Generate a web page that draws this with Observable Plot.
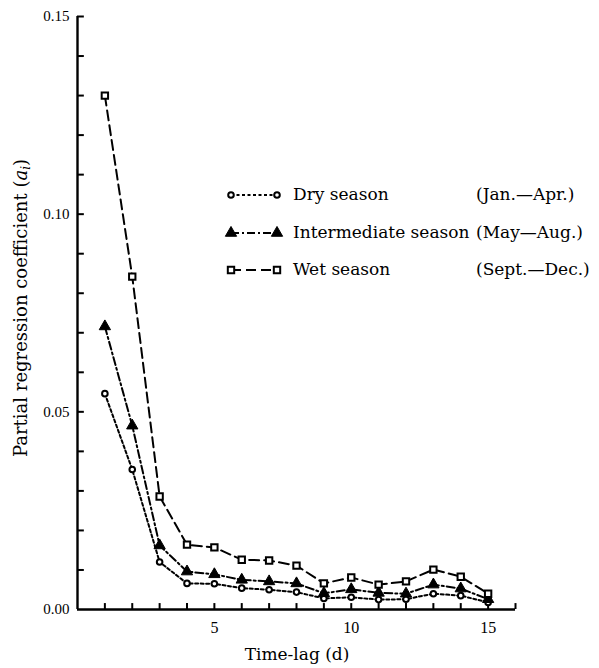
<!DOCTYPE html>
<html>
<head>
<meta charset="utf-8">
<script src="https://cdn.jsdelivr.net/npm/d3@7"></script>
<script src="https://cdn.jsdelivr.net/npm/@observablehq/plot@0.6"></script>
<style>
  body { margin: 0; background: #fff; }
  #chart { width: 599px; height: 668px; }
</style>
</head>
<body>
<div id="chart"></div>
<script>
// ---- data ----
const lags = [1, 2, 3, 4, 5, 6, 7, 8, 9, 10, 11, 12, 13, 14, 15];
const drySeason = [0.0546, 0.0354, 0.0120, 0.0066, 0.0065, 0.0054, 0.0050, 0.0044, 0.0028, 0.0031, 0.0025, 0.0026, 0.0040, 0.0035, 0.0018];
const intermediateSeason = [0.0716, 0.0465, 0.0162, 0.0096, 0.0089, 0.0075, 0.0071, 0.0066, 0.0041, 0.0051, 0.0042, 0.0040, 0.0063, 0.0053, 0.0026];
const wetSeason = [0.1300, 0.0842, 0.0286, 0.0164, 0.0157, 0.0126, 0.0124, 0.0111, 0.0066, 0.0081, 0.0063, 0.0071, 0.0101, 0.0083, 0.0040];
const seriesNames = ["Dry season", "Intermediate season", "Wet season"];
const seriesMonths = ["(Jan.\u2014Apr.)", "(May\u2014Aug.)", "(Sept.\u2014Dec.)"];
const xTicks = [1, 2, 3, 4, 5, 6, 7, 8, 9, 10, 11, 12, 13, 14, 15, 16];
const xTickLabels = [5, 10, 15];
const yMinorTicks = [0.01, 0.02, 0.03, 0.04, 0.05, 0.06, 0.07, 0.08, 0.09, 0.10, 0.11, 0.12, 0.13, 0.14, 0.15];
const yTickLabels = [0, 0.05, 0.10, 0.15];
const xLabel = "Time-lag (d)";
const yLabel = "Partial regression coefficient";

// ---- styles ----
const FONT = "'DejaVu Serif', 'Liberation Serif', serif";
const TICKFONT = "'Liberation Serif', 'DejaVu Serif', serif";
const X_TICK_LEN = 0.0015;  // inward tick length in y units (~6px)
const Y_TICK_LEN = 0.25;    // inward tick length in x units (~7px)
const styles = [
  { dash: "3,2.5", symbol: "circle", r: 2.8, fill: "#fff", stroke: "#000", sw: 2 },
  { dash: "8,3,2,3", symbol: "triangle", r: 4.2, fill: "#000", stroke: "#000", sw: 1 },
  { dash: "10,5", symbol: "square", r: 3.6, fill: "#fff", stroke: "#000", sw: 2 }
];

const seriesValues = [drySeason, intermediateSeason, wetSeason];
const rows = seriesValues.map(vals => lags.map((lag, i) => ({ lag, value: vals[i] })));

const marks = [];
rows.forEach((data, k) => {
  const s = styles[k];
  marks.push(Plot.line(data, { x: "lag", y: "value", stroke: "#000", strokeWidth: 2, strokeDasharray: s.dash }));
});
rows.forEach((data, k) => {
  const s = styles[k];
  marks.push(Plot.dot(data, { x: "lag", y: "value", symbol: s.symbol, r: s.r, fill: s.fill, stroke: s.stroke, strokeWidth: s.sw }));
});

const plot = Plot.plot({
  width: 599,
  height: 668,
  marginLeft: 77,
  marginRight: 84,
  marginTop: 16,
  marginBottom: 59,
  style: { fontFamily: TICKFONT, background: "#fff", color: "#000" },
  x: { domain: [0, 16] },
  y: { domain: [0, 0.15] },
  marks: [
    Plot.axisX({ ticks: xTickLabels, tickSize: 0, tickPadding: 12, tickFormat: d => String(d), label: null, fontSize: 16 }),
    Plot.axisY({ ticks: yTickLabels, tickSize: 0, tickPadding: 8, tickFormat: d3.format(".2f"), label: null, fontSize: 15 }),
    // inward ticks
    Plot.ruleX(xTicks, { x: d => d, y1: 0, y2: X_TICK_LEN, stroke: "#000", strokeWidth: 2 }),
    Plot.ruleY(yMinorTicks, { y: d => d, x1: 0, x2: Y_TICK_LEN, stroke: "#000", strokeWidth: 2 }),
    Plot.ruleX([0], { strokeWidth: 2.4 }),
    Plot.ruleY([0], { strokeWidth: 2.4 }),
    ...marks
  ]
});

document.getElementById("chart").appendChild(plot);
const svg = d3.select(plot);

// x label
svg.append("text")
  .attr("x", 297).attr("y", 655)
  .attr("text-anchor", "middle").attr("dominant-baseline", "middle")
  .style("font-family", FONT).style("font-size", "17px")
  .text(xLabel);

// y label with italic a and subscript i
const yl = svg.append("text")
  .attr("transform", "translate(22,308) rotate(-90)")
  .attr("text-anchor", "middle").attr("dominant-baseline", "middle")
  .style("font-family", FONT).style("font-size", "18px");
yl.append("tspan").text(yLabel + " (");
yl.append("tspan").style("font-style", "italic").text("a");
yl.append("tspan").style("font-style", "italic").style("font-size", "12px").attr("dy", 4).text("i");
yl.append("tspan").attr("dy", -4).text(")");

// legend
const legendRowsY = [195, 233, 270];
const lg = svg.append("g");
seriesNames.forEach((name, k) => {
  const s = styles[k];
  const y = legendRowsY[k];
  lg.append("line").attr("x1", 231).attr("x2", 277).attr("y1", y).attr("y2", y)
    .attr("stroke", "#000").attr("stroke-width", 2).attr("stroke-dasharray", s.dash);
  const sym = d3.symbol(s.symbol === "circle" ? d3.symbolCircle : s.symbol === "triangle" ? d3.symbolTriangle : d3.symbolSquare, Math.PI * s.r * s.r);
  [231, 277].forEach(x => {
    lg.append("path").attr("d", sym()).attr("transform", `translate(${x},${y})`)
      .attr("fill", s.fill).attr("stroke", s.stroke).attr("stroke-width", s.sw);
  });
  lg.append("text").attr("x", 293).attr("y", y).attr("text-anchor", "start").attr("dominant-baseline", "middle")
    .style("font-family", FONT).style("font-size", "17px").text(name);
  lg.append("text").attr("x", 476).attr("y", y).attr("text-anchor", "start").attr("dominant-baseline", "middle")
    .style("font-family", FONT).style("font-size", "17px").text(seriesMonths[k]);
});
</script>
</body>
</html>
